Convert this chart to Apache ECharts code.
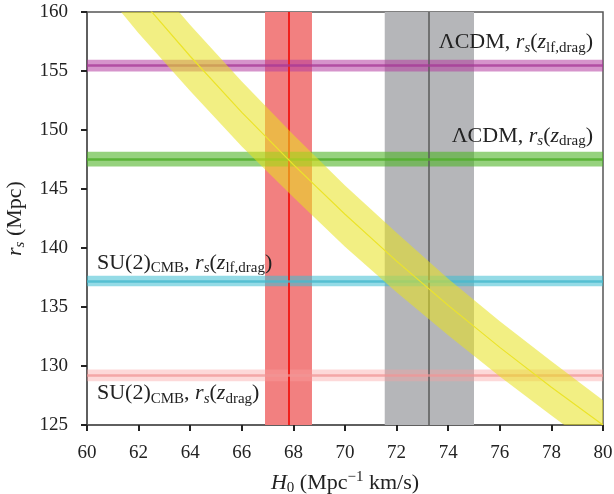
<!DOCTYPE html>
<html><head><meta charset="utf-8">
<script src="https://cdn.jsdelivr.net/npm/echarts@6/dist/echarts.min.js"></script>
<style>html,body{margin:0;padding:0;background:#fff}#c{width:614px;height:494px}</style>
</head><body><div id="c"></div>
<script>
// x ticks / y ticks
const xTicks = [60,62,64,66,68,70,72,74,76,78,80];
const yTicks = [125,130,135,140,145,150,155,160];
// yellow band (r_s vs H0 constraint)
const bandH0     = [60,    62,    64,    66,    68,    70,    72,    74,    76,    78,    80];
const bandLower  = [163.5, 158.2, 153.3, 148.6, 144.3, 140.1, 136.25,132.6, 129.1, 125.8, 122.6];
const bandUpper  = [169.5, 164.0, 158.9, 154.1, 149.6, 145.3, 141.3, 137.4, 133.8, 130.4, 127.1];
const bandCenter = [166.7, 161.3, 156.25,151.5, 147.06,142.86,138.89,135.14,131.58,128.2, 125.0];
// vertical H0 measurements [low, center, high]
const planckH0 = [66.9, 67.82, 68.72];
const shoesH0  = [71.54, 73.26, 75.0];
// horizontal r_s values [low, center, high]
const lcdmLf   = [154.95, 155.45, 155.95];
const lcdmDrag = [146.9, 147.55, 148.15];
const su2Lf    = [136.75, 137.2, 137.65];
const su2Drag  = [128.7, 129.2, 129.7];

const FONT = '"Liberation Serif", "DejaVu Serif", serif';
const BS = 22, SS = 15;
const base = {fontFamily: FONT, fontSize: BS, color: '#222', lineHeight: 26};
const rich = {
  n: Object.assign({}, base),
  i: Object.assign({}, base, {fontStyle: 'italic'}),
  sub: {fontFamily: FONT, fontSize: SS, color: '#222', lineHeight: 14, verticalAlign: 'bottom'},
  subi: {fontFamily: FONT, fontSize: SS, color: '#222', lineHeight: 14, verticalAlign: 'bottom', fontStyle: 'italic'},
  sup: {fontFamily: FONT, fontSize: SS, color: '#222', lineHeight: 14, verticalAlign: 'top'}
};

function hBand(v, fill, lineCol, labelText, pos, dist) {
  return {
    type: 'line', data: [], z: 5,
    markArea: {silent: true, itemStyle: {color: fill}, data: [[{yAxis: v[0]}, {yAxis: v[2]}]]},
    markLine: {silent: true, symbol: 'none',
      lineStyle: {color: lineCol, width: 2.5, type: 'solid'},
      label: {show: true, position: pos, formatter: labelText, rich: rich, distance: dist},
      data: [{yAxis: v[1]}]}
  };
}

const chart = echarts.init(document.getElementById('c'), null, {renderer: 'canvas'});
chart.setOption({
  animation: false,
  grid: {left: 87, right: 11, top: 12, bottom: 69, containLabel: false, outerBoundsMode: 'none',
         show: true, borderColor: '#555', borderWidth: 1.5, backgroundColor: 'transparent'},
  xAxis: {
    type: 'value', min: xTicks[0], max: xTicks[xTicks.length-1], interval: 2,
    axisLine: {show: true, lineStyle: {color: '#555', width: 1.5}},
    axisTick: {show: true, length: 6, lineStyle: {color: '#222', width: 2}},
    axisLabel: {fontFamily: FONT, fontSize: 19, color: '#222', margin: 19},
    splitLine: {show: false},
    name: '{i|H}{sub|0}{n| (Mpc}{sup|−1}{n| km/s)}', nameLocation: 'middle', nameGap: 45,
    nameTextStyle: {rich: rich}
  },
  yAxis: {
    type: 'value', min: yTicks[0], max: yTicks[yTicks.length-1], interval: 5,
    axisLine: {show: true, lineStyle: {color: '#555', width: 1.5}},
    axisTick: {show: true, length: 6, lineStyle: {color: '#222', width: 2}},
    axisLabel: {fontFamily: FONT, fontSize: 19, color: '#222', margin: 19},
    splitLine: {show: false},
    name: '{i|r}{subi|s}{n| (Mpc)}', nameLocation: 'middle', nameGap: 59, nameRotate: 90,
    nameTextStyle: {rich: rich}
  },
  series: [
    {type: 'line', data: [], z: 1,
     markArea: {silent: true, data: [
       [{xAxis: planckH0[0], itemStyle: {color: '#f28080'}}, {xAxis: planckH0[2]}],
       [{xAxis: shoesH0[0], itemStyle: {color: '#b5b6b9'}}, {xAxis: shoesH0[2]}]
     ]},
     markLine: {silent: true, symbol: 'none', label: {show: false}, data: [
       {xAxis: planckH0[1], lineStyle: {color: '#f0201c', width: 2, type: 'solid'}},
       {xAxis: shoesH0[1], lineStyle: {color: '#5a5a5a', width: 1.5, type: 'solid'}}
     ]}},
    hBand(lcdmLf, 'rgba(180,60,160,0.55)', 'rgba(165,55,150,0.75)',
      '{n|ΛCDM, }{i|r}{subi|s}{n|(}{i|z}{sub|lf,drag}{n|)}', 'insideEndTop', [10, 10]),
    hBand(lcdmDrag, 'rgba(80,180,40,0.6)', 'rgba(80,175,45,0.85)',
      '{n|ΛCDM, }{i|r}{subi|s}{n|(}{i|z}{sub|drag}{n|)}', 'insideEndTop', [10, 10]),
    hBand(su2Lf, 'rgba(60,190,210,0.55)', 'rgba(70,185,205,0.8)',
      '{n|SU(2)}{sub|CMB}{n|, }{i|r}{subi|s}{n|(}{i|z}{sub|lf,drag}{n|)}', 'insideStartTop', [10, 5]),
    hBand(su2Drag, 'rgba(250,160,160,0.4)', 'rgba(240,150,150,0.75)',
      '{n|SU(2)}{sub|CMB}{n|, }{i|r}{subi|s}{n|(}{i|z}{sub|drag}{n|)}', 'insideStartBottom', [10, 5]),
    {type: 'custom', z: 6, silent: true, clip: true,
     data: bandH0.map((x,i)=>[x, bandLower[i], bandUpper[i]]),
     encode: {x: 0, y: [1, 2]},
     renderItem: function (params, api) {
       if (params.dataIndex !== 0) return null;
       const pts = [];
       for (let i = 0; i < bandH0.length; i++) pts.push(api.coord([bandH0[i], bandLower[i]]));
       for (let i = bandH0.length - 1; i >= 0; i--) pts.push(api.coord([bandH0[i], bandUpper[i]]));
       return {type: 'polygon', shape: {points: pts}, style: {fill: 'rgba(232,226,30,0.55)'}};
     }},
    {type: 'line', name: 'center', z: 7, symbol: 'none', silent: true,
     lineStyle: {width: 1.2, color: '#ece42a'},
     data: bandH0.map((x,i)=>[x, bandCenter[i]])}
  ]
});
</script></body></html>
